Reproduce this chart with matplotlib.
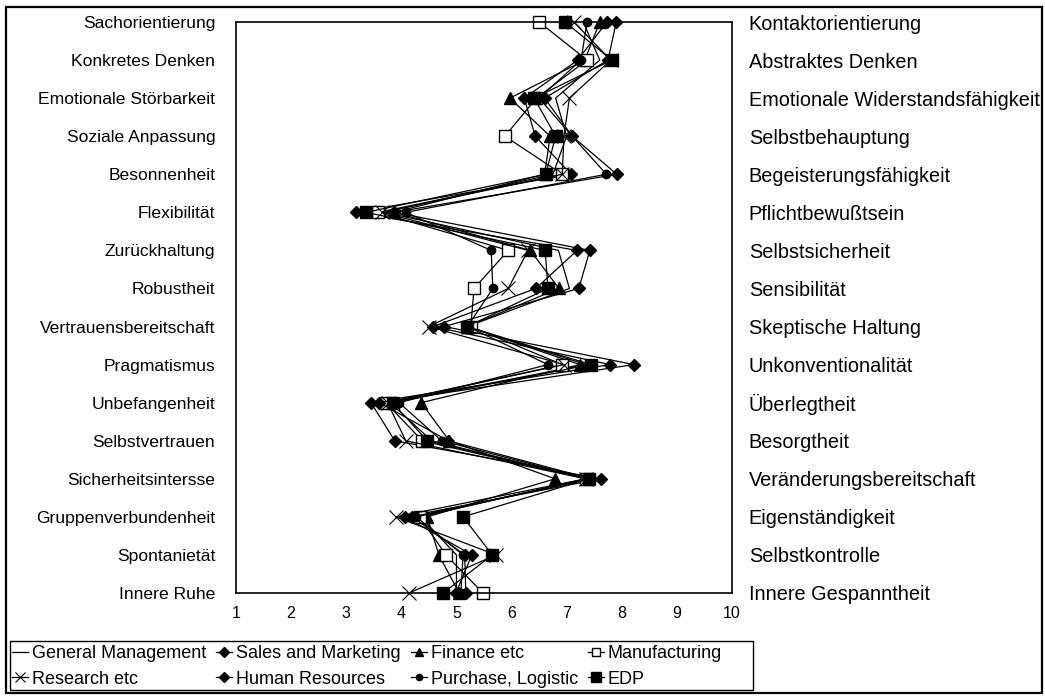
# Profile chart (16 personality factors) by department
import matplotlib
matplotlib.use('Agg')
import matplotlib.pyplot as plt
from matplotlib.patches import Rectangle

plt.rcParams['font.family'] = ['Liberation Sans', 'DejaVu Sans']

left_labels = ['Sachorientierung', 'Konkretes Denken', 'Emotionale Störbarkeit',
               'Soziale Anpassung', 'Besonnenheit', 'Flexibilität', 'Zurückhaltung',
               'Robustheit', 'Vertrauensbereitschaft', 'Pragmatismus', 'Unbefangenheit',
               'Selbstvertrauen', 'Sicherheitsintersse', 'Gruppenverbundenheit',
               'Spontanietät', 'Innere Ruhe']
right_labels = ['Kontaktorientierung', 'Abstraktes Denken', 'Emotionale Widerstandsfähigkeit',
                'Selbstbehauptung', 'Begeisterungsfähigkeit', 'Pflichtbewußtsein',
                'Selbstsicherheit', 'Sensibilität', 'Skeptische Haltung', 'Unkonventionalität',
                'Überlegtheit', 'Besorgtheit', 'Veränderungsbereitschaft', 'Eigenständigkeit',
                'Selbstkontrolle', 'Innere Gespanntheit']

general_mgmt = [7.3, 7.6, 6.8, 7.0, 6.75, 3.7, 6.85, 7.05, 5.2, 7.35, 3.8, 4.55, 7.35, 4.35, 5.0, 5.0]
sales = [7.73, 7.2, 6.23, 6.43, 7.08, 3.18, 7.19, 6.44, 4.58, 7.79, 3.45, 3.88, 7.62, 4.07, 5.28, 4.99]
finance = [7.6, 7.33, 5.97, 6.7, 6.6, 3.87, 6.34, 6.86, 5.2, 7.24, 4.36, 4.87, 6.79, 4.47, 4.68, 5.05]
manufacturing = [6.5, 7.37, 6.45, 5.88, 6.92, 3.58, 5.94, 5.32, 5.26, 6.92, 3.72, 4.38, 7.35, 4.33, 4.81, 5.48]
research = [7.13, 7.8, 7.05, 6.95, 6.92, 3.65, 6.3, 5.94, 4.5, 6.95, 3.75, 4.08, 7.35, 3.9, 5.72, 4.14]
human_res = [7.9, 7.75, 6.6, 7.1, 7.91, 3.87, 7.42, 7.22, 4.78, 8.22, 3.6, 4.85, 7.45, 4.2, 5.15, 5.17]
purchase = [7.37, 7.26, 6.5, 7.1, 7.72, 4.08, 5.63, 5.66, 5.2, 6.66, 3.96, 4.73, 7.4, 4.27, 5.12, 5.08]
edp = [6.97, 7.82, 6.41, 6.8, 6.62, 3.36, 6.61, 6.66, 5.19, 7.44, 3.84, 4.47, 7.4, 5.12, 5.65, 4.76]

rows = list(range(len(left_labels)))

fig = plt.figure(figsize=(10.45, 7.0), dpi=100)
ax = fig.add_axes([236 / 1045, 1 - 593 / 700, (732 - 236) / 1045, (593 - 22) / 700])

series = [
    ('General Management', general_mgmt, dict(marker='None')),
    ('Sales and Marketing', sales, dict(marker='D', markersize=6.5, mfc='black')),
    ('Finance etc', finance, dict(marker='^', markersize=8, mfc='black')),
    ('Manufacturing', manufacturing, dict(marker='s', markersize=8, mfc='white', mew=1.0)),
    ('Research etc', research, dict(marker='x', markersize=10, mew=0.8)),
    ('Human Resources', human_res, dict(marker='D', markersize=6.5, mfc='black')),
    ('Purchase, Logistic', purchase, dict(marker='o', markersize=6, mfc='black')),
    ('EDP', edp, dict(marker='s', markersize=9, mfc='black')),
]

handles = {}
for name, vals, style in series:
    ln, = ax.plot(vals, rows, color='black', lw=0.9, mec='black', clip_on=False,
                  label=name, **style)
    handles[name] = ln

ax.set_xlim(1, 10)
ax.set_ylim(15, 0)
ax.set_xticks(range(1, 11))
ax.tick_params(axis='x', length=0, pad=9, labelsize=11.5)
ax.set_yticks(rows)
ax.set_yticklabels(left_labels, fontsize=12.6)
ax.tick_params(axis='y', length=0, pad=15)
for sp in ax.spines.values():
    sp.set_linewidth(1.2)

ax2 = ax.twinx()
ax2.set_ylim(15, 0)
ax2.set_yticks(rows)
ax2.set_yticklabels(right_labels, fontsize=14.3)
ax2.tick_params(axis='y', length=0, pad=12)
for sp in ax2.spines.values():
    sp.set_visible(False)

# legend filled column-wise, so order it to read row-wise like the original
order = ['General Management', 'Research etc', 'Sales and Marketing', 'Human Resources',
         'Finance etc', 'Purchase, Logistic', 'Manufacturing', 'EDP']
leg = fig.legend([handles[n] for n in order], order, ncol=4, loc='center left',
                 bbox_to_anchor=(10 / 1045, 1 - 691 / 700, 714 / 1045, 49 / 700), mode='expand',
                 fontsize=13, frameon=False, handlelength=0.9,
                 handletextpad=0.2, borderaxespad=0, borderpad=0.1, labelspacing=0.45,
                 markerscale=0.75)

fig.patches.append(Rectangle((10 / 1045, 1 - 690 / 700), 743 / 1045, 49 / 700,
                             transform=fig.transFigure, fill=False, edgecolor='black', lw=1.0))
fig.patches.append(Rectangle((6 / 1045, 7 / 700), 1036 / 1045, 686 / 700, transform=fig.transFigure,
                             fill=False, edgecolor='black', lw=1.6))

fig.savefig('out.png', dpi=100)
